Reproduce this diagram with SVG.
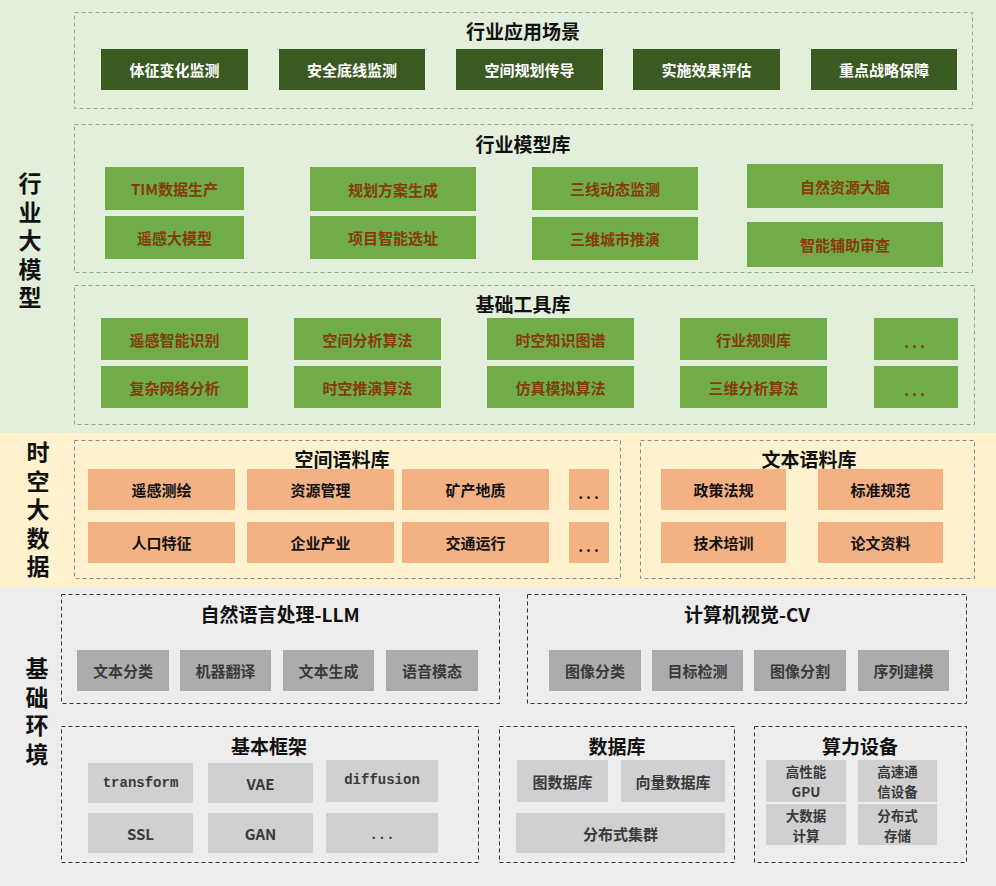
<svg xmlns="http://www.w3.org/2000/svg" width="996" height="886" viewBox="0 0 996 886">
<style>
text{font-family:"Noto Sans CJK SC","Noto Sans",sans-serif;font-weight:bold;text-anchor:middle;dominant-baseline:central}
.band-g{fill:#e2efda}.band-y{fill:#fff2cc}.band-x{fill:#ededed}
.dg{fill:none;stroke:#8fae7c;stroke-width:1;stroke-dasharray:4 3}
.dy{fill:none;stroke:#8c8c8c;stroke-width:1;stroke-dasharray:4 3}
.dx{fill:none;stroke:#333;stroke-width:1;stroke-dasharray:4 3}
.title{font-size:19px;fill:#111}
.side{font-size:23px;fill:#111;writing-mode:vertical-rl;text-anchor:start;letter-spacing:5.5px}
.app rect{fill:#3a5a22}.app text{fill:#fff;font-size:15px}
.mdl rect{fill:#70ad47}.mdl text{fill:#843c0c;font-size:15px}
.cor rect{fill:#f4b183}.cor text{fill:#111;font-size:15px}
.g1 rect{fill:#acacac}.g1 text{fill:#3a3a3a;font-size:15px}
.g2 rect{fill:#d0d0d0}.g2 text{fill:#3a3a3a;font-size:15px}
.g2 text.two{font-size:13.5px}
.mono{font-family:"Liberation Mono","DejaVu Sans Mono",monospace}
</style>
<rect class="band-g" x="0" y="0" width="996" height="433"/>
<rect class="band-y" x="0" y="433" width="996" height="154"/>
<rect class="band-x" x="0" y="587" width="996" height="299"/>

<g id="side-labels">
<text class="side" x="30" y="172">行业大模型</text>
<text class="side" x="38" y="441">时空大数据</text>
<text class="side" x="37" y="657">基础环境</text>
</g>

<g id="apps">
<rect class="dg" x="74.5" y="12.5" width="898" height="96"/>
<text class="title" x="523" y="30">行业应用场景</text>
<g id="app1" class="app"><rect x="101" y="49" width="147" height="41"/><text x="174.5" y="69.5">体征变化监测</text></g>
<g id="app2" class="app"><rect x="279" y="49" width="146" height="41"/><text x="352" y="69.5">安全底线监测</text></g>
<g id="app3" class="app"><rect x="456" y="49" width="147" height="41"/><text x="529.5" y="69.5">空间规划传导</text></g>
<g id="app4" class="app"><rect x="633" y="49" width="147" height="41"/><text x="706.5" y="69.5">实施效果评估</text></g>
<g id="app5" class="app"><rect x="811" y="49" width="146" height="41"/><text x="884" y="69.5">重点战略保障</text></g>
</g>

<g id="models">
<rect class="dg" x="74.5" y="124.5" width="898" height="148"/>
<text class="title" x="523" y="143">行业模型库</text>
<g id="m1" class="mdl"><rect x="105" y="167" width="139" height="43"/><text x="174.5" y="188.5">TIM数据生产</text></g>
<g id="m2" class="mdl"><rect x="105" y="216" width="139" height="43"/><text x="174.5" y="237.5">遥感大模型</text></g>
<g id="m3" class="mdl"><rect x="310" y="167" width="166" height="44"/><text x="393" y="189">规划方案生成</text></g>
<g id="m4" class="mdl"><rect x="310" y="216" width="166" height="43"/><text x="393" y="237.5">项目智能选址</text></g>
<g id="m5" class="mdl"><rect x="532" y="167" width="166" height="43"/><text x="615" y="188.5">三线动态监测</text></g>
<g id="m6" class="mdl"><rect x="532" y="217" width="166" height="43"/><text x="615" y="238.5">三维城市推演</text></g>
<g id="m7" class="mdl"><rect x="747" y="164" width="196" height="44"/><text x="845" y="186">自然资源大脑</text></g>
<g id="m8" class="mdl"><rect x="747" y="222" width="196" height="45"/><text x="845" y="244.5">智能辅助审查</text></g>
</g>

<g id="tools">
<rect class="dg" x="74.5" y="285.5" width="900" height="139"/>
<text class="title" x="523" y="303">基础工具库</text>
<g id="t1" class="mdl"><rect x="101" y="318" width="147" height="42"/><text x="174.5" y="339">遥感智能识别</text></g>
<g id="t2" class="mdl"><rect x="101" y="366" width="147" height="42"/><text x="174.5" y="387">复杂网络分析</text></g>
<g id="t3" class="mdl"><rect x="294" y="318" width="147" height="42"/><text x="367.5" y="339">空间分析算法</text></g>
<g id="t4" class="mdl"><rect x="294" y="366" width="147" height="42"/><text x="367.5" y="387">时空推演算法</text></g>
<g id="t5" class="mdl"><rect x="487" y="318" width="147" height="42"/><text x="560.5" y="339">时空知识图谱</text></g>
<g id="t6" class="mdl"><rect x="487" y="366" width="147" height="42"/><text x="560.5" y="387">仿真模拟算法</text></g>
<g id="t7" class="mdl"><rect x="680" y="318" width="147" height="42"/><text x="753.5" y="339">行业规则库</text></g>
<g id="t8" class="mdl"><rect x="680" y="366" width="147" height="42"/><text x="753.5" y="387">三维分析算法</text></g>
<g id="t9" class="mdl"><rect x="874" y="318" width="84" height="42"/><text x="916" y="341" style="letter-spacing:3px">...</text></g>
<g id="t10" class="mdl"><rect x="874" y="366" width="84" height="42"/><text x="916" y="389" style="letter-spacing:3px">...</text></g>
</g>

<g id="spatial-corpus">
<rect class="dy" x="74.5" y="440.5" width="546" height="138"/>
<text class="title" x="342" y="458">空间语料库</text>
<g id="s1" class="cor"><rect x="88" y="469" width="147" height="41"/><text x="161.5" y="489.5">遥感测绘</text></g>
<g id="s2" class="cor"><rect x="247" y="469" width="147" height="41"/><text x="320.5" y="489.5">资源管理</text></g>
<g id="s3" class="cor"><rect x="402" y="469" width="147" height="41"/><text x="475.5" y="489.5">矿产地质</text></g>
<g id="s4" class="cor"><rect x="569" y="469" width="40" height="41"/><text x="590" y="492" style="letter-spacing:3px">...</text></g>
<g id="s5" class="cor"><rect x="88" y="522" width="147" height="41"/><text x="161.5" y="542.5">人口特征</text></g>
<g id="s6" class="cor"><rect x="247" y="522" width="147" height="41"/><text x="320.5" y="542.5">企业产业</text></g>
<g id="s7" class="cor"><rect x="402" y="522" width="147" height="41"/><text x="475.5" y="542.5">交通运行</text></g>
<g id="s8" class="cor"><rect x="569" y="522" width="40" height="41"/><text x="590" y="545" style="letter-spacing:3px">...</text></g>
</g>

<g id="text-corpus">
<rect class="dy" x="640.5" y="440.5" width="334" height="138"/>
<text class="title" x="809" y="458">文本语料库</text>
<g id="w1" class="cor"><rect x="661" y="469" width="125" height="41"/><text x="723.5" y="489.5">政策法规</text></g>
<g id="w2" class="cor"><rect x="818" y="469" width="125" height="41"/><text x="880.5" y="489.5">标准规范</text></g>
<g id="w3" class="cor"><rect x="661" y="522" width="125" height="41"/><text x="723.5" y="542.5">技术培训</text></g>
<g id="w4" class="cor"><rect x="818" y="522" width="125" height="41"/><text x="880.5" y="542.5">论文资料</text></g>
</g>

<g id="nlp">
<rect class="dx" x="61.5" y="594.5" width="438" height="109"/>
<text class="title" x="280" y="613">自然语言处理-LLM</text>
<g id="n1" class="g1"><rect x="77" y="650" width="92" height="41"/><text x="123" y="670.5">文本分类</text></g>
<g id="n2" class="g1"><rect x="180" y="650" width="91" height="41"/><text x="225.5" y="670.5">机器翻译</text></g>
<g id="n3" class="g1"><rect x="283" y="650" width="91" height="41"/><text x="328.5" y="670.5">文本生成</text></g>
<g id="n4" class="g1"><rect x="386" y="650" width="92" height="41"/><text x="432" y="670.5">语音模态</text></g>
</g>

<g id="cv">
<rect class="dx" x="527.5" y="594.5" width="439" height="109"/>
<text class="title" x="747" y="613">计算机视觉-CV</text>
<g id="c1" class="g1"><rect x="549" y="650" width="92" height="41"/><text x="595" y="670.5">图像分类</text></g>
<g id="c2" class="g1"><rect x="652" y="650" width="91" height="41"/><text x="697.5" y="670.5">目标检测</text></g>
<g id="c3" class="g1"><rect x="754" y="650" width="92" height="41"/><text x="800" y="670.5">图像分割</text></g>
<g id="c4" class="g1"><rect x="858" y="650" width="91" height="41"/><text x="903.5" y="670.5">序列建模</text></g>
</g>

<g id="framework">
<rect class="dx" x="61.5" y="726.5" width="417" height="136"/>
<text class="title" x="269" y="745">基本框架</text>
<g id="f1" class="g2"><rect x="88" y="763" width="105" height="40"/><text class="mono" x="140.5" y="783" style="font-size:14px">transform</text></g>
<g id="f2" class="g2"><rect x="208" y="763" width="105" height="40"/><text x="260.5" y="783">VAE</text></g>
<g id="f3" class="g2"><rect x="326" y="760" width="112" height="42"/><text class="mono" x="382" y="780" style="font-size:14px">diffusion</text></g>
<g id="f4" class="g2"><rect x="88" y="813" width="105" height="40"/><text x="140.5" y="833">SSL</text></g>
<g id="f5" class="g2"><rect x="208" y="813" width="105" height="40"/><text x="260.5" y="833">GAN</text></g>
<g id="f6" class="g2"><rect x="326" y="813" width="112" height="40"/><text class="mono" x="382" y="835" style="font-size:14px">...</text></g>
</g>

<g id="database">
<rect class="dx" x="499.5" y="726.5" width="235" height="136"/>
<text class="title" x="617" y="745">数据库</text>
<g id="d1" class="g2"><rect x="517" y="760" width="91" height="42"/><text x="562.5" y="781">图数据库</text></g>
<g id="d2" class="g2"><rect x="621" y="760" width="104" height="42"/><text x="673" y="781">向量数据库</text></g>
<g id="d3" class="g2"><rect x="516" y="813" width="209" height="40"/><text x="620.5" y="833">分布式集群</text></g>
</g>

<g id="compute">
<rect class="dx" x="754.5" y="726.5" width="212" height="136"/>
<text class="title" x="860" y="745">算力设备</text>
<g id="p1" class="g2"><rect x="766" y="760" width="80" height="42"/><text class="two" x="806" y="771">高性能<tspan x="806" dy="20">GPU</tspan></text></g>
<g id="p2" class="g2"><rect x="858" y="760" width="79" height="42"/><text class="two" x="897.5" y="771">高速通<tspan x="897.5" dy="20">信设备</tspan></text></g>
<g id="p3" class="g2"><rect x="766" y="804" width="80" height="41"/><text class="two" x="806" y="814.5">大数据<tspan x="806" dy="20">计算</tspan></text></g>
<g id="p4" class="g2"><rect x="858" y="804" width="79" height="41"/><text class="two" x="897.5" y="814.5">分布式<tspan x="897.5" dy="20">存储</tspan></text></g>
</g>

<g id="connectors"></g>
</svg>
